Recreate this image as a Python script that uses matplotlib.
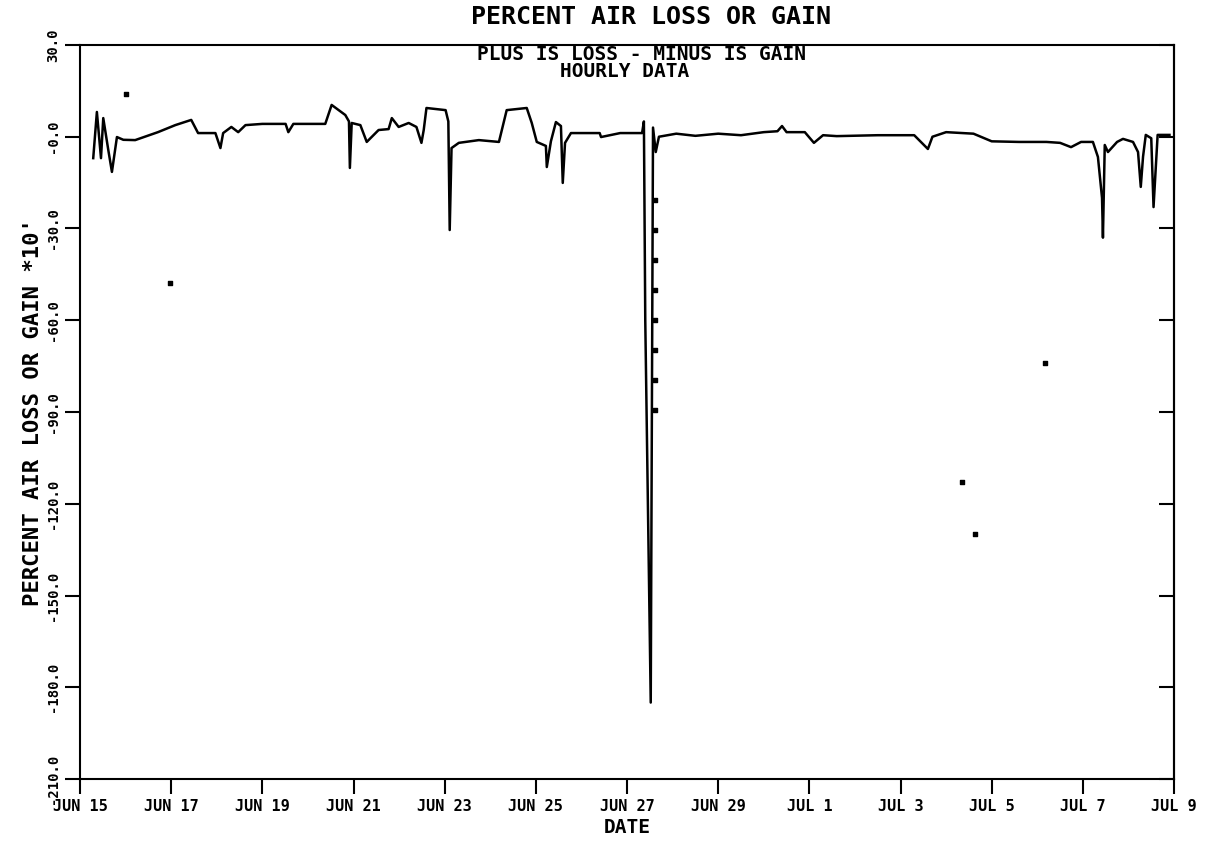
import matplotlib
matplotlib.use('Agg')
import matplotlib.pyplot as plt

# days after Jun 15 (hourly record)
day = [0.29, 0.37, 0.46, 0.51, 0.62, 0.70, 0.81, 0.95, 1.21, 1.71, 2.09, 2.44, 2.59,
       2.97, 3.08, 3.14, 3.32, 3.47, 3.63, 4.00, 4.51, 4.57, 4.68, 5.38, 5.52, 5.82,
       5.90, 5.92, 5.96, 6.15, 6.29, 6.55, 6.77, 6.84, 6.99, 7.21, 7.38, 7.49, 7.54,
       7.60, 8.02, 8.08, 8.11, 8.15, 8.31, 8.75, 9.19, 9.36, 9.80, 9.91, 10.02, 10.22,
       10.24, 10.33, 10.44, 10.55, 10.59, 10.64, 10.77, 11.40, 11.43, 11.85, 12.33,
       12.37, 12.40, 12.52, 12.57, 12.63, 12.70, 13.08, 13.50, 14.00, 14.50, 15.00,
       15.30, 15.40, 15.50, 15.90, 16.10, 16.30, 16.60, 17.50, 18.30, 18.60, 18.70,
       19.00, 19.60, 20.00, 20.60, 21.20, 21.50, 21.74, 21.96, 22.22, 22.33, 22.42,
       22.44, 22.48, 22.55, 22.75, 22.88, 23.10, 23.21, 23.27, 23.32, 23.38, 23.50,
       23.55, 23.64, 23.90]
pct = [-7.0, 8.1, -7.0, 6.1, -4.3, -11.5, -0.1, -1.0, -1.1, 1.5, 3.8, 5.5, 1.2,
       1.2, -3.7, 1.2, 3.2, 1.5, 3.8, 4.2, 4.2, 1.5, 4.2, 4.2, 10.4, 7.1,
       5.0, -10.2, 4.5, 3.8, -1.7, 2.2, 2.5, 6.1, 3.2, 4.5, 3.2, -2.0, 2.2,
       9.4, 8.7, 5.0, -30.5, -3.7, -2.0, -1.1, -1.7, 8.7, 9.4, 4.5, -1.7, -3.0,
       -9.9, -1.5, 4.8, 3.5, -15.1, -2.0, 1.2, 1.2, -0.1, 1.2, 1.2,
       5.0, -60.0, -185.0, 3.0, -5.0, 0.0, 1.0, 0.3, 1.0, 0.5, 1.5,
       1.8, 3.5, 1.5, 1.5, -2.0, 0.5, 0.2, 0.5, 0.5, -4.0, 0.0,
       1.5, 1.0, -1.5, -1.7, -1.7, -2.0, -3.4, -1.7, -1.7, -6.6, -20.0,
       -33.0, -2.7, -5.0, -1.7, -0.7, -1.7, -5.0, -16.4, -6.5, 0.6, -0.5,
       -23.0, 0.6, 0.6]

# stray single readings
dot_day = [1.00, 1.98, 12.62, 12.62, 12.62, 12.62, 12.62, 12.62, 12.62, 12.62,
           19.34, 19.63, 21.16]
dot_pct = [14.0, -47.8, -20.7, -30.5, -40.3, -50.1, -59.9, -69.7, -79.5, -89.4,
           -113.0, -130.0, -74.0]

tick_days = list(range(0, 25, 2))
tick_names = ['JUN 15', 'JUN 17', 'JUN 19', 'JUN 21', 'JUN 23', 'JUN 25', 'JUN 27',
              'JUN 29', 'JUL 1', 'JUL 3', 'JUL 5', 'JUL 7', 'JUL 9']
yticks = [30, 0, -30, -60, -90, -120, -150, -180, -210]
ytick_names = ['30.0', '-0.0', '-30.0', '-60.0', '-90.0', '-120.0', '-150.0', '-180.0', '-210.0']

plt.rcParams['font.family'] = 'DejaVu Sans Mono'
plt.rcParams['font.weight'] = 'bold'

fig = plt.figure(figsize=(12.16, 8.44), dpi=100)
ax = fig.add_axes([0.0658, 0.077, 0.8997, 0.8697])

ax.plot(day, pct, color='black', linewidth=1.8)
ax.scatter(dot_day, dot_pct, s=7, color='black', marker='s')

ax.set_xlim(0, 24)
ax.set_ylim(-210, 30)
ax.set_xticks(tick_days)
ax.set_xticklabels(tick_names, fontsize=11)
ax.set_yticks(yticks)
ax.set_yticklabels(ytick_names, fontsize=10, rotation=90, va='center')
ax.tick_params(direction='out', length=11, width=1.5)

# inward ticks on the right edge
right = ax.secondary_yaxis('right')
right.set_yticks(yticks)
right.set_yticklabels([])
right.tick_params(direction='in', length=11, width=1.5)

for s in list(ax.spines.values()) + [right.spines['right']]:
    s.set_linewidth(1.5)
    s.set_color('black')

ax.set_xlabel('DATE', fontsize=14, fontweight='bold', labelpad=3)
ax.set_ylabel("PERCENT AIR LOSS OR GAIN *10'", fontsize=16, fontweight='bold', labelpad=2)

fig.text(0.535, 0.972, 'PERCENT AIR LOSS OR GAIN', ha='center', va='baseline', fontsize=18)
ax.text(0.513, 0.979, 'PLUS IS LOSS - MINUS IS GAIN', transform=ax.transAxes,
        ha='center', va='baseline', fontsize=14)
ax.text(0.498, 0.956, 'HOURLY DATA', transform=ax.transAxes,
        ha='center', va='baseline', fontsize=14)

fig.savefig('out.png', dpi=100, facecolor='white')
